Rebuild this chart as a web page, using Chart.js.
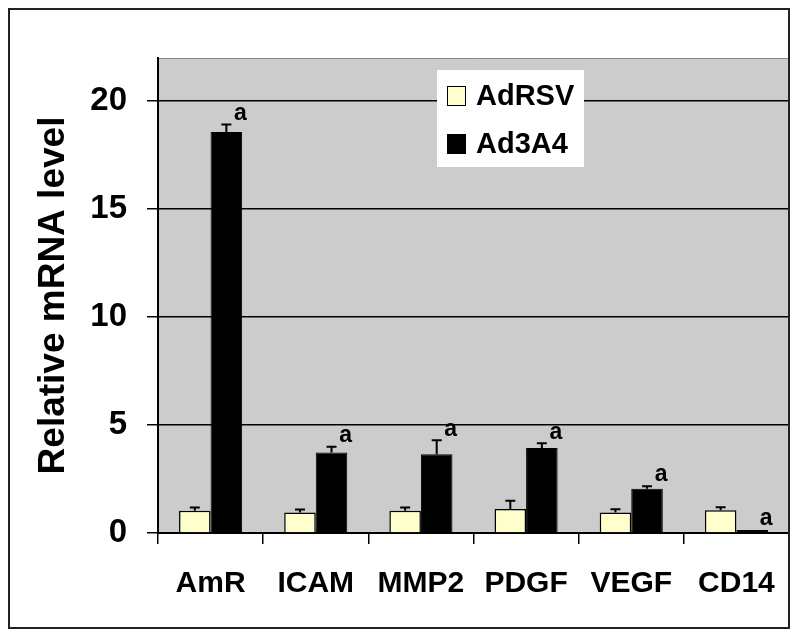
<!DOCTYPE html>
<html>
<head>
<meta charset="utf-8">
<script src="https://cdn.jsdelivr.net/npm/chart.js@4.4.1/dist/chart.umd.min.js"></script>
<style>
  html, body { margin: 0; padding: 0; background: #fff; }
  canvas { display: block; }
</style>
</head>
<body>
<canvas id="grafik" width="800" height="638"></canvas>
<script>
// Data
const categories = ['AmR', 'ICAM', 'MMP2', 'PDGF', 'VEGF', 'CD14'];
const adRSV = [1.03, 0.95, 1.03, 1.11, 0.95, 1.05];
const adRSVErr = [0.15, 0.14, 0.15, 0.38, 0.15, 0.14];
const ad3A4 = [18.57, 3.73, 3.65, 3.94, 2.05, 0.14];
const ad3A4Err = [0.35, 0.27, 0.65, 0.22, 0.12, 0];
const ad3A4Mark = ['a', 'a', 'a', 'a', 'a', 'a'];
const yTicks = [0, 5, 10, 15, 20];

const errors = [adRSVErr, ad3A4Err];
const marks = [null, ad3A4Mark];

// Gray plot background + outer frame
const framePlugin = {
  id: 'frame',
  beforeDraw(chart) {
    const { ctx, chartArea: a } = chart;
    ctx.save();
    ctx.fillStyle = '#cccccc';
    ctx.fillRect(a.left, a.top, a.right - a.left, a.bottom - a.top);
    ctx.strokeStyle = '#8a8a8a';
    ctx.lineWidth = 1;
    ctx.beginPath();
    ctx.moveTo(a.left, a.top + 0.5);
    ctx.lineTo(a.right, a.top + 0.5);
    ctx.stroke();
    ctx.restore();
  },
  afterDraw(chart) {
    const ctx = chart.ctx;
    ctx.save();
    ctx.strokeStyle = '#222';
    ctx.lineWidth = 2;
    ctx.strokeRect(9, 9, 780, 619);
    ctx.restore();
  }
};

// Error bars (upper half only) and significance letters
const errorPlugin = {
  id: 'errors',
  afterDatasetsDraw(chart) {
    const { ctx, scales: { y } } = chart;
    ctx.save();
    chart.data.datasets.forEach((ds, di) => {
      const meta = chart.getDatasetMeta(di);
      meta.data.forEach((bar, i) => {
        const v = ds.data[i];
        const e = errors[di][i];
        const top = y.getPixelForValue(v + e);
        if (e > 0) {
          ctx.strokeStyle = '#000';
          ctx.lineWidth = 2;
          ctx.beginPath();
          ctx.moveTo(bar.x, bar.y);
          ctx.lineTo(bar.x, top);
          ctx.moveTo(bar.x - 5, top);
          ctx.lineTo(bar.x + 5, top);
          ctx.stroke();
        }
        if (marks[di] && marks[di][i]) {
          ctx.fillStyle = '#000';
          ctx.font = 'bold 23px "Liberation Sans", Arial, sans-serif';
          ctx.textAlign = 'center';
          ctx.textBaseline = 'middle';
          ctx.fillText(marks[di][i], bar.x + 14, top - 11);
        }
      });
    });
    ctx.restore();
  }
};

// Legend box inside the plot
const legendPlugin = {
  id: 'boxLegend',
  afterDraw(chart) {
    const { ctx, chartArea: a } = chart;
    const x = a.left + 279, y = a.top + 12;
    ctx.save();
    ctx.fillStyle = '#fff';
    ctx.fillRect(x, y, 147, 97);
    ctx.font = 'bold 29px "Liberation Sans", Arial, sans-serif';
    ctx.textBaseline = 'middle';
    ctx.textAlign = 'left';
    chart.data.datasets.forEach((ds, i) => {
      const ry = y + 26 + i * 48;
      ctx.fillStyle = ds.backgroundColor;
      ctx.fillRect(x + 10, ry - 10, 19, 20);
      ctx.strokeStyle = '#000';
      ctx.lineWidth = 1;
      ctx.strokeRect(x + 10.5, ry - 9.5, 18, 19);
      ctx.fillStyle = '#000';
      ctx.fillText(ds.label, x + 39, ry + 1);
    });
    ctx.restore();
  }
};

new Chart(document.getElementById('grafik'), {
  type: 'bar',
  data: {
    labels: categories,
    datasets: [
      {
        label: 'AdRSV',
        data: adRSV,
        backgroundColor: '#ffffcc',
        borderColor: '#000',
        borderWidth: 1.5
      },
      {
        label: 'Ad3A4',
        data: ad3A4,
        backgroundColor: '#000000',
        borderColor: '#000',
        borderWidth: 1
      }
    ]
  },
  options: {
    responsive: false,
    animation: false,
    categoryPercentage: 0.6,
    barPercentage: 1.0,
    layout: { padding: { top: 58, right: 11, left: 0, bottom: 0 } },
    plugins: {
      legend: { display: false },
      tooltip: { enabled: false }
    },
    scales: {
      x: {
        afterFit(scale) { scale.height = 105; },
        grid: {
          offset: true,
          drawOnChartArea: false,
          drawTicks: true,
          tickLength: 11,
          color: '#000',
          lineWidth: 1.5
        },
        border: { color: '#000', width: 2 },
        ticks: {
          color: '#000',
          padding: 22,
          font: { family: '"Liberation Sans", Arial, sans-serif', size: 30, weight: 'bold' }
        }
      },
      y: {
        min: 0,
        max: 22,
        afterFit(scale) { scale.width = 158; },
        afterBuildTicks(scale) {
          scale.ticks = yTicks.map(v => ({ value: v }));
        },
        grid: {
          color: '#000',
          lineWidth: 1.5,
          drawTicks: true,
          tickLength: 11
        },
        border: { color: '#000', width: 2 },
        ticks: {
          color: '#000',
          padding: 20,
          font: { family: '"Liberation Sans", Arial, sans-serif', size: 33, weight: 'bold' }
        }
        ,
        title: {
          display: true,
          text: 'Relative mRNA level',
          color: '#000',
          padding: { top: 35, bottom: 0 },
          font: { family: '"Liberation Sans", Arial, sans-serif', size: 37, weight: 'bold', lineHeight: 1 }
        }
      }
    }
  },
  plugins: [framePlugin, errorPlugin, legendPlugin]
});
</script>
</body>
</html>
